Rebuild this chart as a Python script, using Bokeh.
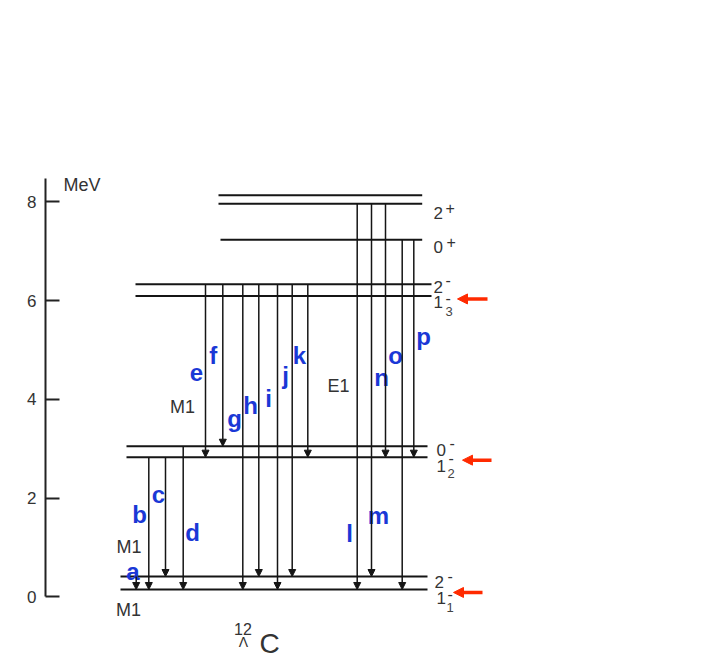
from bokeh.plotting import figure
from bokeh.models import Range1d, FixedTicker, ColumnDataSource, Arrow, NormalHead
from bokeh.core.properties import value
from bokeh.embed import file_html
from bokeh.resources import INLINE

# ---------------- data ----------------
# energy levels (MeV)
level_names = ["1_1^-", "2^-", "1_2^-", "0^-", "1_3^-", "2^-", "0^+", "2^+", "2^+"]
level_energy = [0.148, 0.411, 2.828, 3.050, 6.093, 6.332, 7.231, 7.960, 8.134]

# gamma transitions: letter, initial level index, final level index
trans_letters = ["a", "b", "c", "d", "e", "f", "g", "h", "i", "j", "k", "l", "m", "n", "o", "p"]
trans_from = [1, 2, 2, 3, 5, 5, 5, 5, 5, 5, 5, 7, 7, 7, 6, 6]
trans_to = [0, 0, 1, 0, 2, 3, 0, 1, 0, 1, 2, 0, 1, 2, 0, 2]

# observed levels marked by red arrows (indices into level list)
marked_levels = [0, 2, 4]

# axis ticks
tick_values = [0, 2, 4, 6, 8]

# ---------------- layout (horizontal placement) ----------------
level_x0 = [120, 120, 126, 126, 135, 135, 220, 218, 218]
level_x1 = [427, 427, 427, 427, 431, 431, 421.7, 421.7, 421.7]
trans_x = [135.7, 148.3, 165, 182.7, 205, 222.3, 242.3, 258.3, 277, 291.7, 307.3,
           356.7, 371, 385, 401.7, 413.3]
letter_x = [132.5, 139, 158, 192, 196, 212.7, 234, 250, 268, 285, 299, 349, 378, 381, 395, 423]
letter_y = [0.512, 1.667, 2.072, 1.302, 4.549, 4.888, 3.612, 3.875, 4.011, 4.489, 4.888,
            1.282, 1.647, 4.442, 4.888, 5.272]

FONT = value("Liberation Sans")
BLUE = "#1a38d6"
RED = "#ff2a00"
INK = "#151515"
GREY = "#333333"

p = figure(width=695, height=662,
           x_range=Range1d(45, 695), y_range=Range1d(-1.3307, 11.916),
           output_backend="svg", toolbar_location=None,
           x_axis_type=None, y_axis_location="left",
           min_border_left=45, min_border_right=0, min_border_top=8, min_border_bottom=0)
p.outline_line_color = None
p.ygrid.visible = False
p.background_fill_color = "white"
p.border_fill_color = "white"

ax = p.yaxis[0]
ax.ticker = FixedTicker(ticks=tick_values)
ax.bounds = (0, 8.473)
ax.axis_line_width = 2
ax.axis_line_color = "#222222"
ax.major_tick_line_width = 2
ax.major_tick_line_color = "#222222"
ax.major_tick_in = 14
ax.major_tick_out = 0
ax.minor_tick_line_color = None
ax.major_label_standoff = 9
ax.major_label_text_font = "Liberation Sans"
ax.major_label_text_font_size = "17px"
ax.major_label_text_color = GREY

# energy levels
p.segment(x0=level_x0, y0=level_energy, x1=level_x1, y1=level_energy,
          line_width=2, line_color=INK)

# transitions
tsrc = ColumnDataSource(dict(
    x=trans_x,
    y0=[level_energy[i] for i in trans_from],
    y1=[level_energy[j] for j in trans_to],
))
p.add_layout(Arrow(end=NormalHead(size=7, fill_color=INK, line_color=INK, line_width=1),
                   x_start="x", y_start="y0", x_end="x", y_end="y1",
                   line_width=1.5, line_color=INK, source=tsrc))

# transition letters
p.text(x=letter_x, y=letter_y, text=trans_letters, text_font=FONT,
       text_font_size="24px", text_font_style="bold", text_color=BLUE,
       text_align="center", text_baseline="alphabetic")

# multipolarity / unit labels
p.text(x=[63], y=[8.331], text=["MeV"], text_font=FONT, text_font_size="18px",
       text_color=GREY, text_align="left", text_baseline="alphabetic")
p.text(x=[182, 128.5, 128, 338], y=[3.835, 0.999, -0.277, 4.260],
       text=["M1", "M1", "M1", "E1"], text_font=FONT, text_font_size="18px",
       text_color=GREY, text_align="center", text_baseline="alphabetic")

# nucleus name  12 Λ C
p.text(x=[242.5], y=[-0.662], text=["12"], text_font=FONT, text_font_size="16px",
       text_color=GREY, text_align="center", text_baseline="alphabetic")
p.text(x=[243], y=[-0.925], text=["Λ"], text_font=FONT, text_font_size="14px",
       text_color=GREY, text_align="center", text_baseline="alphabetic")
p.text(x=[259], y=[-0.947], text=["C"], text_font=FONT, text_font_size="28px",
       text_color=GREY, text_align="left", text_baseline="alphabetic")

# level spin-parity labels
lab_main = ["1", "2", "1", "0", "1", "2", "0", "2"]
lab_x = [436, 434, 436, 436, 433, 433, 433, 433]
lab_y = [-0.034, 0.290, 2.659, 2.964, 5.967, 6.265, 7.076, 7.784]
p.text(x=lab_x, y=lab_y, text=lab_main, text_font=FONT, text_font_size="17px",
       text_color=GREY, text_align="left", text_baseline="alphabetic")

sup_txt = ["-", "-", "-", "-", "-", "-", "+", "+"]
sup_x = [447, 447, 448, 449, 445, 445, 446, 445]
sup_y = [0.059, 0.423, 2.813, 3.117, 6.060, 6.419, 7.177, 7.885]
p.text(x=sup_x, y=sup_y, text=sup_txt, text_font=FONT, text_font_size="16px",
       text_color=GREY, text_align="left", text_baseline="alphabetic")

sub_txt = ["1", "2", "3"]
sub_x = [446, 447, 445]
sub_y = [-0.217, 2.497, 5.785]
p.text(x=sub_x, y=sub_y, text=sub_txt, text_font=FONT, text_font_size="13px",
       text_color="#444444", text_align="left", text_baseline="alphabetic")

# red markers
rsrc = ColumnDataSource(dict(
    xs=[482, 491, 487],
    xe=[453, 462, 457],
    y=[level_energy[i] - 0.06 for i in marked_levels],
))
p.add_layout(Arrow(end=NormalHead(size=10, fill_color=RED, line_color=RED, line_width=1),
                   x_start="xs", y_start="y", x_end="xe", y_end="y",
                   line_width=3.5, line_color=RED, source=rsrc))

open("out.html", "w").write(file_html(p, INLINE))
